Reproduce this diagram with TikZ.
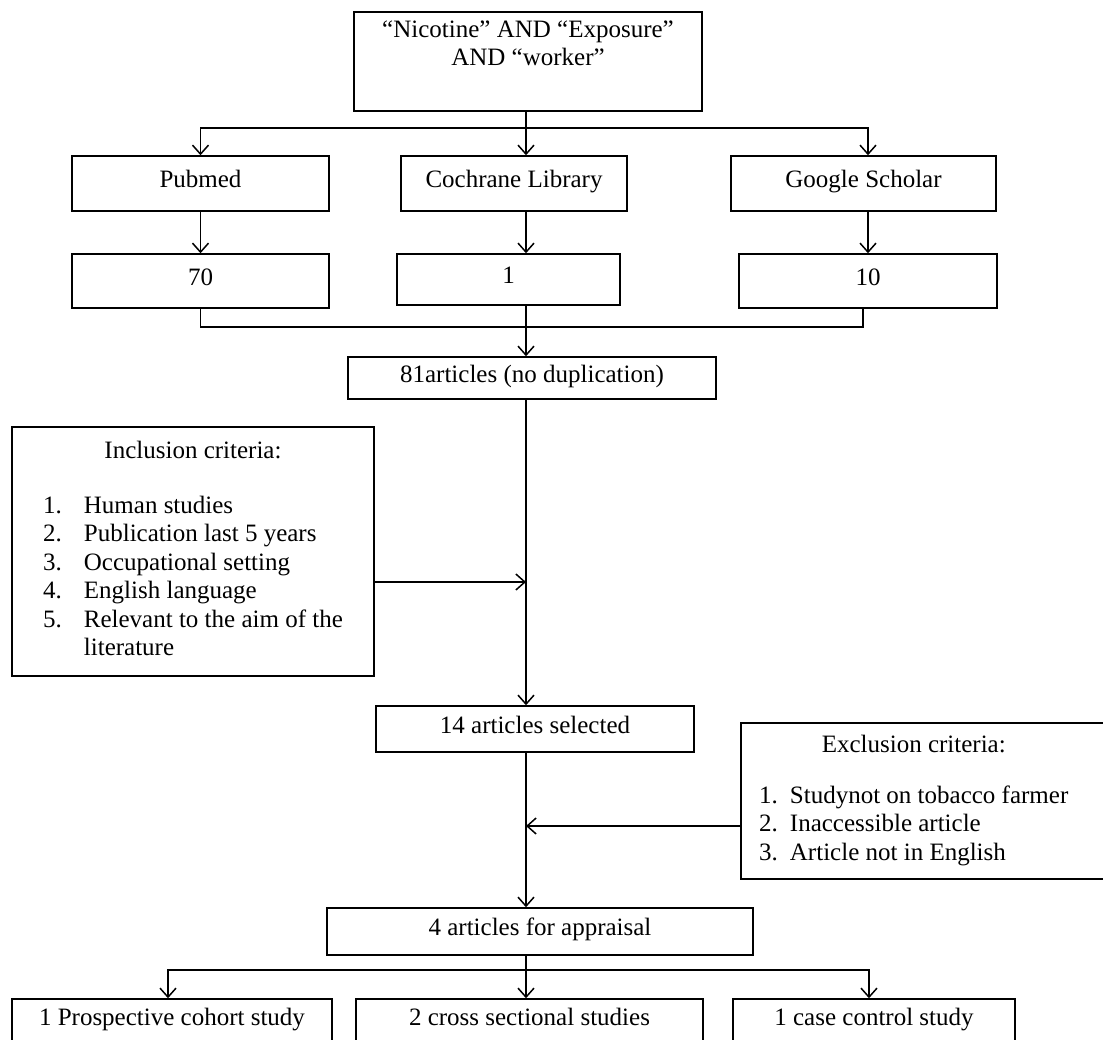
\documentclass[tikz,border=0pt]{standalone}
\usepackage{fontspec}
\setmainfont{Liberation Serif}
\usetikzlibrary{arrows.meta,positioning}

\begin{document}
\begin{tikzpicture}[x=1pt,y=-1pt,line width=1.5pt,
  font=\fontsize{25}{28.5}\selectfont,
  >={Straight Barb[length=9pt,width=16pt]},
  box/.style={draw,inner sep=0pt,align=center},
  line/.style={box,text height=17pt,text depth=9pt}]
\useasboundingbox (0,0) rectangle (1103,1039);
\node[box,minimum width=348pt,minimum height=99pt] (1) at (528,61.5) {“Nicotine” AND “Exposure”\\AND “worker”\\ \strut};
\node[line,minimum width=257pt,minimum height=55pt] (2) at (200.5,183.5) {Pubmed};
\node[line,minimum width=226pt,minimum height=55pt] (3) at (514,183.5) {Cochrane Library};
\node[line,minimum width=265pt,minimum height=55pt] (4) at (863.5,183.5) {Google Scholar};
\node[line,minimum width=257pt,minimum height=54pt] (5) at (200.5,281) {70};
\node[line,minimum width=223pt,minimum height=51pt] (6) at (508.5,279.5) {1};
\node[line,minimum width=258pt,minimum height=54pt] (7) at (868,281) {10};
\node[line,minimum width=368pt,minimum height=42pt] (8) at (532,378) {81articles (no duplication)};
\node[box,minimum width=362pt,minimum height=249pt] (9) at (193,551.5) {\begin{tabular}{@{}r@{\hspace{22pt}}l@{}}
\multicolumn{2}{c}{Inclusion criteria:}\\[26pt]
1. & Human studies\\
2. & Publication last 5 years\\
3. & Occupational setting\\
4. & English language\\
5. & Relevant to the aim of the\\
 & literature
\end{tabular}};
\node[line,minimum width=318pt,minimum height=46pt] (10) at (535,729) {14 articles selected};
\node[box,minimum width=370pt,minimum height=156pt,anchor=west] (11) at (740,801) {\begin{tabular}{@{}r@{\hspace{12pt}}l@{}}
\multicolumn{2}{c}{Exclusion criteria:}\\[22pt]
1. & Studynot on tobacco farmer\\
2. & Inaccessible article\\
3. & Article not in English
\end{tabular}\hspace*{24pt}};
\node[line,minimum width=426pt,minimum height=47pt] (12) at (540,931.5) {4 articles for appraisal};
\node[line,minimum width=320pt,minimum height=44pt] (13) at (172,1021) {1 Prospective cohort study};
\node[line,minimum width=347pt,minimum height=44pt] (14) at (529.5,1021) {2 cross sectional studies};
\node[line,minimum width=282pt,minimum height=44pt] (15) at (874,1021) {1 case control study};
\coordinate (s) at (526,128);
\coordinate (m) at (526,327);
\coordinate (a) at (526,582);
\coordinate (b) at (526,826);
\coordinate (c) at (526,970);
\draw (s |- 1.south)--(s);
\draw[->] (s) -| (2);
\draw[->] (s)--(s |- 3.north);
\draw[->] (s) -| (7 |- 4.north);
\draw[->] (2)--(5);
\draw[->] (s |- 3.south)--(s |- 6.north);
\draw[->] (7 |- 4.south)--(7);
\draw (5) |- (m);
\draw (m |- 6.south)--(m);
\draw ([xshift=-5pt]7.south) |- (m);
\draw[->] (m)--(m |- 8.north);
\draw[->] (m |- 8.south)--(m |- 10.north);
\draw[->] (9.east |- a)--(a);
\draw[->] (m |- 10.south)--(m |- 12.north);
\draw[->] (11.west |- b)--(b);
\draw (c |- 12.south)--(c);
\draw[->] (c) -| ([xshift=-4pt]13.north);
\draw[->] (c)--(c |- 14.north);
\draw[->] (c) -| ([xshift=-5pt]15.north);
\end{tikzpicture}
\end{document}
